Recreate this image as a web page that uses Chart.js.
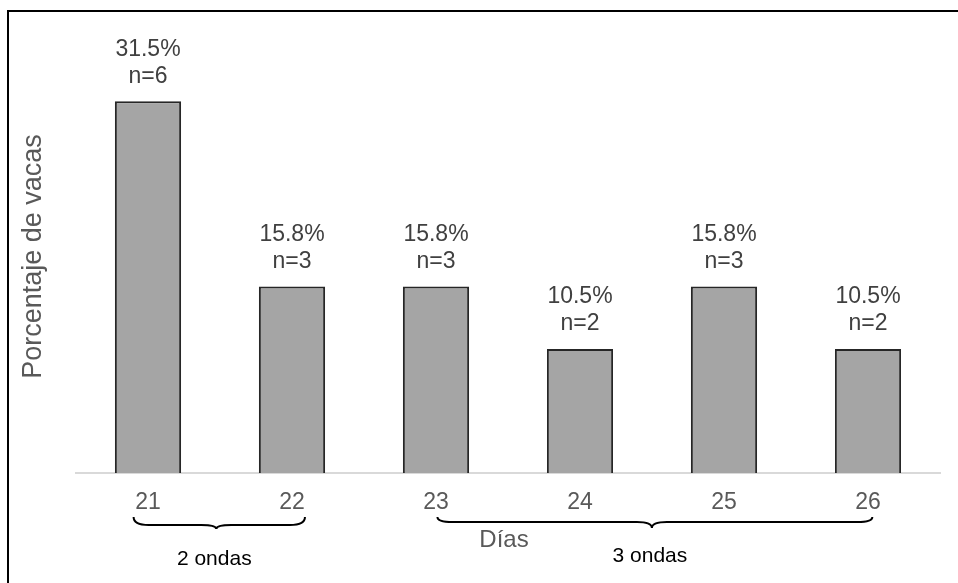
<!DOCTYPE html>
<html>
<head>
<meta charset="utf-8">
<script src="https://cdn.jsdelivr.net/npm/chart.js@4.4.1/dist/chart.umd.min.js"></script>
<style>
  html, body { margin: 0; padding: 0; background: #ffffff; }
  #wrap { position: relative; width: 958px; height: 583px; overflow: hidden; }
  #frame { position: absolute; left: 7px; top: 10px; width: 1000px; height: 1000px;
           border-top: 2px solid #000; border-left: 2px solid #000; box-sizing: border-box; }
  canvas { position: absolute; left: 0; top: 0; }
</style>
</head>
<body>
<div id="wrap">
  <div id="frame"></div>
  <canvas id="chart" width="958" height="583"></canvas>
</div>
<script>
// Days after ovulation and share of cows in each group
const categories = ['21', '22', '23', '24', '25', '26'];
const percentages = [31.5, 15.8, 15.8, 10.5, 15.8, 10.5];
const counts = [6, 3, 3, 2, 3, 2];

// Follicular-wave groups spanning the day categories
const groupLabels = ['2 ondas', '3 ondas'];
const groupFrom = [0, 2];
const groupTo = [1, 5];

const yTitle = 'Porcentaje de vacas';
const xTitle = 'Días';

const FONT = '"Liberation Sans", Arial, sans-serif';

// Percentage and count written above each bar
const valueLabels = {
  id: 'valueLabels',
  afterDatasetsDraw(chart) {
    const ctx = chart.ctx;
    const meta = chart.getDatasetMeta(0);
    ctx.save();
    ctx.font = '23px ' + FONT;
    ctx.fillStyle = '#404040';
    ctx.textAlign = 'center';
    ctx.textBaseline = 'middle';
    meta.data.forEach((bar, i) => {
      ctx.fillText(percentages[i].toFixed(1) + '%', bar.x, bar.y - 52);
      ctx.fillText('n=' + counts[i], bar.x, bar.y - 25);
    });
    ctx.restore();
  }
};

// Axis titles, curly braces and group captions under the category axis
const annotations = {
  id: 'annotations',
  afterDraw(chart) {
    const ctx = chart.ctx;
    const x = chart.scales.x;
    const area = chart.chartArea;
    const step = x.getPixelForValue(1) - x.getPixelForValue(0);
    ctx.save();

    // y axis title
    ctx.font = '27px ' + FONT;
    ctx.fillStyle = '#595959';
    ctx.textAlign = 'center';
    ctx.textBaseline = 'middle';
    ctx.translate(34, (area.top + area.bottom) / 2 - 10);
    ctx.rotate(-Math.PI / 2);
    ctx.fillText(yTitle, 0, 0);
    ctx.setTransform(1, 0, 0, 1, 0, 0);

    // x axis title
    ctx.font = '24px ' + FONT;
    ctx.fillText(xTitle, (area.left + area.right) / 2 - 4, area.bottom + 67);

    // braces
    const starts = [-0.10 * step, 0.01 * step];
    const ends = [0.09 * step, 0.03 * step];
    const lineY = [area.bottom + 52, area.bottom + 49];
    const cuspY = [area.bottom + 56, area.bottom + 55];
    const labelY = [area.bottom + 86, area.bottom + 83];
    ctx.strokeStyle = '#000000';
    ctx.lineWidth = 2;
    ctx.fillStyle = '#000000';
    ctx.font = '21px ' + FONT;
    groupLabels.forEach((label, g) => {
      const x0 = x.getPixelForValue(groupFrom[g]) + starts[g];
      const x1 = x.getPixelForValue(groupTo[g]) + ends[g];
      const xm = (x0 + x1) / 2 - 3;
      const tip = area.bottom + 44;
      const yl = lineY[g];
      const yc = cuspY[g];
      const r = 15;
      ctx.beginPath();
      ctx.moveTo(x0, tip);
      ctx.quadraticCurveTo(x0, yl, x0 + r, yl);
      ctx.lineTo(xm - r, yl);
      ctx.quadraticCurveTo(xm, yl, xm, yc);
      ctx.quadraticCurveTo(xm, yl, xm + r, yl);
      ctx.lineTo(x1 - r, yl);
      ctx.quadraticCurveTo(x1, yl, x1, tip);
      ctx.stroke();
      ctx.fillText(label, xm - 2, labelY[g]);
    });
    ctx.restore();
  }
};

new Chart(document.getElementById('chart'), {
  type: 'bar',
  data: {
    labels: categories,
    datasets: [{
      data: percentages,
      backgroundColor: '#a5a5a5',
      borderColor: '#262626',
      borderWidth: 2,
      borderSkipped: 'bottom',
      categoryPercentage: 1.0,
      barPercentage: 0.46
    }]
  },
  options: {
    responsive: false,
    animation: false,
    devicePixelRatio: 1,
    layout: { padding: { left: 76, right: 18, top: 60, bottom: 0 } },
    plugins: { legend: { display: false }, tooltip: { enabled: false } },
    scales: {
      x: {
        grid: { display: false, drawTicks: false },
        border: { display: true, color: '#d9d9d9', width: 2 },
        ticks: { color: '#595959', font: { family: FONT, size: 23 }, padding: 16, maxRotation: 0 },
        afterFit(scale) { scale.height = 110; }
      },
      y: {
        display: false,
        min: 0,
        max: 35
      }
    }
  },
  plugins: [valueLabels, annotations]
});
</script>
</body>
</html>
